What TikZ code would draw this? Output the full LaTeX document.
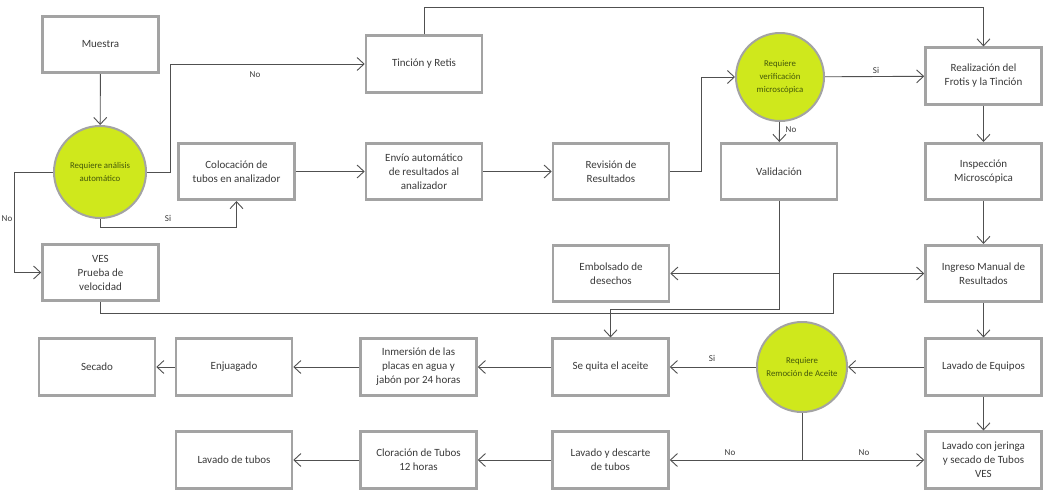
\documentclass[tikz,border=0pt]{standalone}
\usepackage{fontspec}
\setmainfont{Carlito}
\usetikzlibrary{arrows.meta}
\definecolor{boxline}{HTML}{A3A3A3}
\definecolor{conn}{HTML}{505050}
\definecolor{txt}{HTML}{3A3A3A}
\definecolor{dfill}{HTML}{CFE81C}
\definecolor{dtxt}{HTML}{44580A}
\begin{document}
\begin{tikzpicture}[x=1pt,y=-1pt,
 box/.style={draw=boxline, line width=2.6pt, fill=white, minimum width=116pt, minimum height=56.5pt, align=center, font=\fontsize{11}{14}\selectfont, text=txt, inner sep=0pt},
 dec/.style={circle, draw=boxline, line width=2pt, fill=dfill, align=center, font=\fontsize{8.8}{13}\selectfont, text=dtxt, inner sep=0pt},
 arr/.style={draw=conn, line width=0.9pt, -{Straight Barb[length=7pt,width=13pt]}},
 ln/.style={draw=conn, line width=0.9pt},
 lbl/.style={font=\fontsize{9}{11}\selectfont, text=txt, inner sep=1pt}]
\fill[white] (0,0) rectangle (1057,501);
\useasboundingbox (0,0) rectangle (1057,501);

% nodes
\node[box] (mu) at (100.5,44.5) {Muestra};
\node[dec, minimum size=92pt] (c1) at (100,172) {Requiere análisis\\automático};
\node[box] (col) at (236.5,171.5) {Colocación de\\tubos en analizador};
\node[box] (ves) at (100.5,272.5) {VES\\Prueba de\\velocidad};
\node[box] (tin) at (424,64) {Tinción y Retis};
\node[box] (env) at (424,171.5) {Envío automático\\de resultados al\\analizador};
\node[box] (rev) at (611,171.5) {Revisión de\\Resultados};
\node[box] (emb) at (611,273.5) {Embolsado de\\desechos};
\node[dec, minimum size=88pt] (c2) at (780,77) {Requiere\\verificación\\microscópica};
\node[box] (real) at (983.5,76) {Realización del\\Frotis y la Tinción};
\node[box] (val) at (779,171.5) {Validación};
\node[box] (insp) at (983.5,171.5) {Inspección\\Microscópica};
\node[box] (ing) at (983.5,273.5) {Ingreso Manual de\\Resultados};
\node[box] (sec) at (97,367) {Secado};
\node[box] (enj) at (234,367) {Enjuagado};
\node[box] (inm) at (418.5,367) {Inmersión de las\\placas en agua y\\jabón por 24 horas};
\node[box] (seq) at (610.5,367) {Se quita el aceite};
\node[dec, minimum size=90pt] (c3) at (802,367) {Requiere\\Remoción de Aceite};
\node[box] (leq) at (983.5,367) {Lavado de Equipos};
\node[box] (ljer) at (983.5,460) {Lavado con jeringa\\y secado de Tubos\\VES};
\node[box] (ldes) at (610.5,460) {Lavado y descarte\\de tubos};
\node[box] (clo) at (418.5,460) {Cloración de Tubos\\12 horas};
\node[box] (ltub) at (234,460) {Lavado de tubos};

% connectors
\draw[arr] (mu) -- (c1);
\draw[arr] (c1.east) -- (170,172) |- (tin.west);
\node[lbl] (lno1) at (255,75) {No};
\draw[arr] (c1.south) -- ++(0,8) -| (col.south);
\node[lbl] (lsi1) at (168,218) {Si};
\draw[arr] (c1.west) -- (14,172) |- (ves.west);
\node[lbl] (lno2) at (7,219) {No};
\draw[arr] (col) -- (env);
\draw[arr] (env) -- (rev);
\draw[arr] (rev.east) -- (701,171.5) |- (c2.west);
\draw[arr] (tin.north) -- (424,7) -| (real.north);
\draw[arr] (c2) -- (real);
\node[lbl] (lsi2) at (876,70) {Si};
\draw[arr] (c2) -- (val);
\node[lbl] (lno3) at (791,130) {No};
\draw[arr] (val.south) |- (emb.east);
\draw[arr] (val.south) -- (779,309) -| (seq.north);
\draw[arr] (ves.south) |- (833,313.5) |- (ing.west);
\draw[arr] (real) -- (insp);
\draw[arr] (insp) -- (ing);
\draw[arr] (ing) -- (leq);
\draw[arr] (leq) -- (c3);
\draw[arr] (c3) -- (seq);
\node[lbl] (lsi3) at (712,358) {Si};
\draw[arr] (c3.south) |- (ldes.east);
\draw[arr] (c3.south) |- (ljer.west);
\node[lbl] (lno4) at (730,453) {No};
\node[lbl] (lno5) at (864,453) {No};
\draw[arr] (leq) -- (ljer);
\draw[arr] (seq) -- (inm);
\draw[arr] (inm) -- (enj);
\draw[arr] (enj) -- (sec);
\draw[arr] (ldes) -- (clo);
\draw[arr] (clo) -- (ltub);
\end{tikzpicture}
\end{document}
